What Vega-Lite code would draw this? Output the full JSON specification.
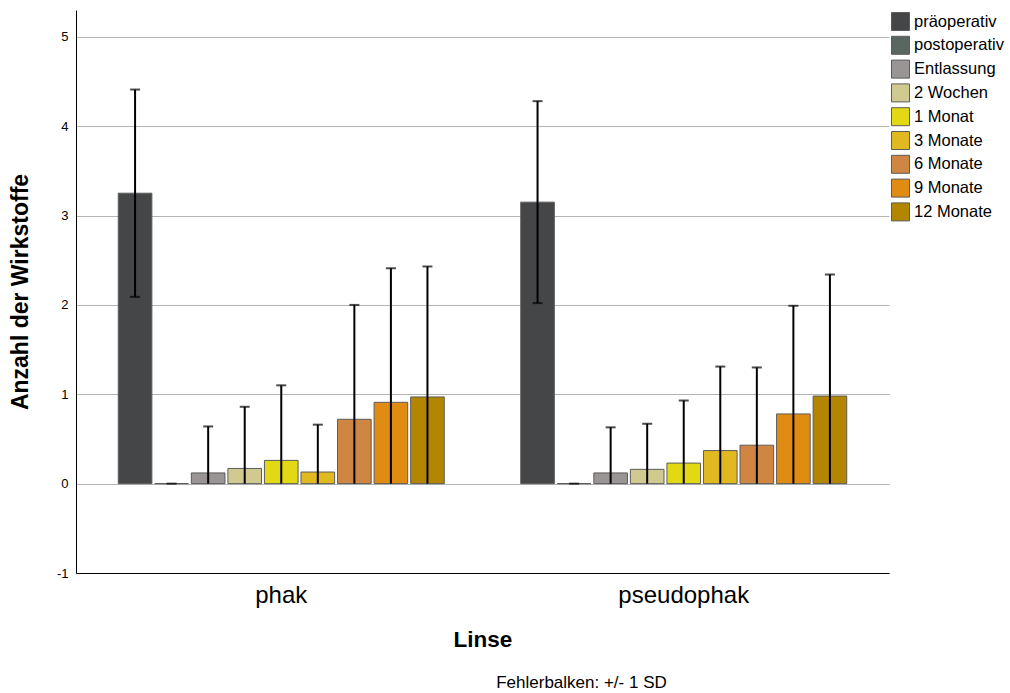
{
  "$schema": "https://vega.github.io/schema/vega-lite/v6.json",
  "width": 813,
  "height": 563,
  "autosize": {"type": "none"},
  "padding": {"left": 76, "top": 10, "right": 121, "bottom": 120},
  "background": "white",
  "config": {
    "font": "Liberation Sans",
    "view": {"stroke": null},
    "axis": {"labelColor": "black", "titleColor": "black", "labelFont": "Liberation Sans", "titleFont": "Liberation Sans"},
    "legend": {"labelFont": "Liberation Sans"}
  },
  "title": {
    "text": "Fehlerbalken: +/- 1 SD",
    "orient": "bottom",
    "anchor": "middle",
    "fontSize": 17,
    "fontWeight": "normal",
    "color": "black",
    "dx": 99,
    "offset": 24
  },
  "data": {
    "values": [
      {"group": "phak", "time": "präoperativ", "mean": 3.25, "lo": 2.09, "hi": 4.41},
      {"group": "phak", "time": "postoperativ", "mean": 0.0, "lo": 0.0, "hi": 0.0},
      {"group": "phak", "time": "Entlassung", "mean": 0.12, "lo": 0.0, "hi": 0.64},
      {"group": "phak", "time": "2 Wochen", "mean": 0.17, "lo": 0.0, "hi": 0.86},
      {"group": "phak", "time": "1 Monat", "mean": 0.26, "lo": 0.0, "hi": 1.1},
      {"group": "phak", "time": "3 Monate", "mean": 0.13, "lo": 0.0, "hi": 0.66},
      {"group": "phak", "time": "6 Monate", "mean": 0.72, "lo": 0.0, "hi": 2.0},
      {"group": "phak", "time": "9 Monate", "mean": 0.91, "lo": 0.0, "hi": 2.41},
      {"group": "phak", "time": "12 Monate", "mean": 0.97, "lo": 0.0, "hi": 2.43},
      {"group": "pseudophak", "time": "präoperativ", "mean": 3.15, "lo": 2.02, "hi": 4.28},
      {"group": "pseudophak", "time": "postoperativ", "mean": 0.0, "lo": 0.0, "hi": 0.0},
      {"group": "pseudophak", "time": "Entlassung", "mean": 0.12, "lo": 0.0, "hi": 0.63},
      {"group": "pseudophak", "time": "2 Wochen", "mean": 0.16, "lo": 0.0, "hi": 0.67},
      {"group": "pseudophak", "time": "1 Monat", "mean": 0.23, "lo": 0.0, "hi": 0.93},
      {"group": "pseudophak", "time": "3 Monate", "mean": 0.37, "lo": 0.0, "hi": 1.31},
      {"group": "pseudophak", "time": "6 Monate", "mean": 0.43, "lo": 0.0, "hi": 1.3},
      {"group": "pseudophak", "time": "9 Monate", "mean": 0.78, "lo": 0.0, "hi": 1.99},
      {"group": "pseudophak", "time": "12 Monate", "mean": 0.98, "lo": 0.0, "hi": 2.34}
    ]
  },
  "encoding": {
    "x": {
      "field": "group",
      "type": "nominal",
      "sort": ["phak", "pseudophak"],
      "scale": {"paddingInner": 0.19, "paddingOuter": 0.105},
      "axis": {
        "title": "Linse",
        "titleFontSize": 22.5,
        "titleFontWeight": "bold",
        "titlePadding": 21,
        "labelFontSize": 24,
        "labelAngle": 0,
        "labelPadding": 10,
        "ticks": false,
        "domainColor": "black",
        "domainWidth": 1,
        "grid": false
      }
    },
    "xOffset": {
      "field": "time",
      "type": "nominal",
      "sort": ["präoperativ", "postoperativ", "Entlassung", "2 Wochen", "1 Monat", "3 Monate", "6 Monate", "9 Monate", "12 Monate"],
      "scale": {"paddingInner": 0.08, "paddingOuter": 0}
    }
  },
  "layer": [
    {
      "mark": {"type": "bar", "stroke": "#5c5c5c", "strokeWidth": 1},
      "encoding": {
        "y": {
          "field": "mean",
          "type": "quantitative",
          "scale": {"domain": [-1, 5.3], "nice": false, "zero": false},
          "axis": {
            "title": "Anzahl der Wirkstoffe",
            "titleFontSize": 23,
            "titleFontWeight": "bold",
            "titlePadding": 24,
            "values": [-1, 0, 1, 2, 3, 4, 5],
            "labelExpr": "datum.value + ''",
            "labelFontSize": 13,
            "labelPadding": 8,
            "ticks": false,
            "domainColor": "black",
            "grid": true,
            "gridColor": "#b4b4b4",
            "gridWidth": 1
          }
        },
        "y2": {"datum": 0},
        "color": {
          "field": "time",
          "type": "nominal",
          "sort": ["präoperativ", "postoperativ", "Entlassung", "2 Wochen", "1 Monat", "3 Monate", "6 Monate", "9 Monate", "12 Monate"],
          "scale": {
            "domain": ["präoperativ", "postoperativ", "Entlassung", "2 Wochen", "1 Monat", "3 Monate", "6 Monate", "9 Monate", "12 Monate"],
            "range": ["#454648", "#5a6660", "#989594", "#d0ca90", "#e2d813", "#e0b920", "#cf8642", "#e08b12", "#b28600"]
          },
          "legend": {
            "title": null,
            "orient": "none",
            "legendX": 815,
            "legendY": 2,
            "symbolType": "square",
            "symbolSize": 324,
            "symbolStrokeColor": "#5c5c5c",
            "symbolStrokeWidth": 1,
            "symbolOpacity": 1,
            "labelFontSize": 16.5,
            "labelColor": "black",
            "labelOffset": 4,
            "rowPadding": 0.8
          }
        }
      }
    },
    {
      "mark": {"type": "rule", "color": "black", "strokeWidth": 2},
      "encoding": {
        "y": {"field": "lo", "type": "quantitative"},
        "y2": {"field": "hi"}
      }
    },
    {
      "mark": {"type": "tick", "color": "black", "thickness": 2, "size": 10, "orient": "horizontal"},
      "encoding": {
        "y": {"field": "hi", "type": "quantitative"}
      }
    },
    {
      "transform": [{"filter": "datum.lo > 0"}],
      "mark": {"type": "tick", "color": "black", "thickness": 2, "size": 10, "orient": "horizontal"},
      "encoding": {
        "y": {"field": "lo", "type": "quantitative"}
      }
    }
  ]
}
